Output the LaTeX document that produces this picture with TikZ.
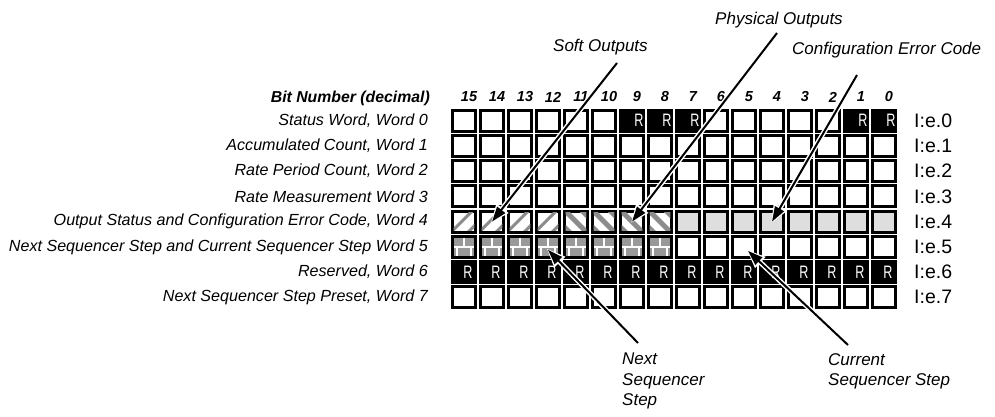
\documentclass[tikz,border=0pt]{standalone}
\usepackage{fontspec}
\usepackage{graphicx}
\setmainfont{Liberation Sans}
\usetikzlibrary{arrows.meta}
\definecolor{hatchgray}{gray}{0.55}
\definecolor{lightcell}{gray}{0.87}
\definecolor{brickgray}{gray}{0.6}
\newcommand{\rmark}{\raisebox{-2pt}{\scalebox{0.7}[1]{R}}}
\begin{document}
\begin{tikzpicture}[x=1pt,y=-1pt,
 cellbox/.style={shape=rectangle,draw=black,line width=3pt,fill=white,minimum width=23.8pt,minimum height=21.05pt,inner sep=0pt,outer sep=0pt},
 lightbox/.style={cellbox,fill=lightcell},
 brickbox/.style={cellbox,fill=brickgray},
 rbox/.style={shape=rectangle,fill=black,minimum width=26.8pt,minimum height=24.05pt,inner sep=0pt,outer sep=0pt,text=white,font=\fontsize{18}{18}\selectfont},
 rowlabel/.style={anchor=east,inner sep=0pt,font=\itshape\fontsize{16.1}{16}\selectfont},
 bitnum/.style={inner sep=0pt,font=\bfseries\itshape\fontsize{14.5}{15}\selectfont},
 addr/.style={anchor=west,inner sep=0pt,font=\fontsize{19.5}{20}\selectfont},
 callout/.style={inner sep=0pt,font=\itshape\fontsize{17}{20.5}\selectfont,align=left},
 casing/.style={draw=white,line width=5pt,-{Triangle[length=19pt,width=14pt]},shorten >=-2pt},
 pointer/.style={draw=black,line width=2pt,-{Triangle[length=15pt,width=10pt]}},
 hatchline/.style={draw=hatchgray,line cap=butt},
 brickline/.style={draw=white,line width=1.6pt,line cap=butt},
]
\fill[white] (0,0) rectangle (995,417);
\useasboundingbox (0,0) rectangle (995,417);

% header
\node[rowlabel,font=\bfseries\itshape\fontsize{15.8}{16}\selectfont] (hdr) at (430,98) {Bit Number (decimal)};
\foreach \c [evaluate=\c as \b using int(15-\c)] in {0,...,15}
  \node[bitnum] (bit-\c) at ({469+28*\c},97) {\b};

% row labels
\node[rowlabel] (lab-0) at (428,120.6) {Status Word, Word 0};
\node[rowlabel] (lab-1) at (428,145.9) {Accumulated Count, Word 1};
\node[rowlabel] (lab-2) at (428,171.1) {Rate Period Count, Word 2};
\node[rowlabel] (lab-3) at (428,196.4) {Rate Measurement Word 3};
\node[rowlabel] (lab-4) at (428,221.6) {Output Status and Configuration Error Code, Word 4};
\node[rowlabel] (lab-5) at (428,246.9) {Next Sequencer Step and Current Sequencer Step Word 5};
\node[rowlabel] (lab-6) at (428,272.1) {Reserved, Word 6};
\node[rowlabel] (lab-7) at (428,297.4) {Next Sequencer Step Preset, Word 7};

\foreach \r in {0,...,7}
  \node[addr] (addr-\r) at (914,{120.6+25.25*\r}) {I:e.\r};

% plain rows
\foreach \r in {1,2,3,7}
  \foreach \c in {0,...,15}
    \node[cellbox] (cell-\r-\c) at ({464+28*\c},{120.625+25.25*\r}) {};

% row 0
\foreach \c in {0,...,5,9,10,11,12,13}
  \node[cellbox] (cell-0-\c) at ({464+28*\c},120.625) {};
\foreach \c in {6,7,8,14,15}
  \node[rbox] (cell-0-\c) at ({464+28*\c},120.625) {\hspace*{14pt}\rmark};

% row 6
\foreach \c in {0,...,15}
  \node[rbox] (cell-6-\c) at ({464+28*\c},{120.625+25.25*6}) {\hspace*{8pt}\rmark};

% row 4
\foreach \c in {0,...,3}{
  \node[cellbox] (cell-4-\c) at ({464+28*\c},{120.625+25.25*4}) {};
  \begin{scope}[shift={({450+28*\c+3.6},{108+25.25*4+3.6})}]
    \clip (0,0) rectangle (20.8,18.05);
    \draw[hatchline,line width=3pt] (27,-10) -- (-10,27);
    \draw[hatchline,line width=3pt] (44,-10) -- (-10,44);
  \end{scope}
}
\foreach \c in {4,...,7}{
  \node[cellbox] (cell-4-\c) at ({464+28*\c},{120.625+25.25*4}) {};
  \begin{scope}[shift={({450+28*\c+3.6},{108+25.25*4+3.6})}]
    \clip (0,0) rectangle (20.8,18.05);
    \draw[hatchline,line width=5pt] (-8.6,-10) -- (41.4,40);
    \draw[hatchline,line width=5pt] (8.4,-10) -- (58.4,40);
    \draw[hatchline,line width=5pt] (-25.6,-10) -- (24.4,40);
  \end{scope}
}
\foreach \c in {8,...,15}
  \node[lightbox] (cell-4-\c) at ({464+28*\c},{120.625+25.25*4}) {};

% row 5
\foreach \c in {0,...,7}{
  \node[brickbox] (cell-5-\c) at ({464+28*\c},{120.625+25.25*5}) {};
  \begin{scope}[shift={({450+28*\c+3.6},{108+25.25*5+3.6})}]
    \clip (0,0) rectangle (20.8,18.05);
    \draw[brickline] (0,9) -- (20.8,9);
    \draw[brickline] (10.4,0) -- (10.4,9);
    \draw[brickline] (3.5,9) -- (3.5,18.05);
    \draw[brickline] (17.3,9) -- (17.3,18.05);
  \end{scope}
}
\foreach \c in {8,...,15}
  \node[cellbox] (cell-5-\c) at ({464+28*\c},{120.625+25.25*5}) {};

% callouts
\node[callout,anchor=west] (soft) at (553,47.5) {Soft Outputs};
\node[callout,anchor=west] (phys) at (715,20) {Physical Outputs};
\node[callout,anchor=west] (conf) at (792,50) {Configuration Error Code};
\node[callout,anchor=north west] (next) at (622,353) {Next\\Sequencer\\Step};
\node[callout,anchor=north west] (curr) at (828,353) {Current\\Sequencer Step};

\coordinate (softfoot) at (617,63);
\coordinate (physfoot) at (777,33);
\coordinate (conffoot) at (857,75);
\coordinate (nextfoot) at (638,343);
\coordinate (currfoot) at (848,345);

\draw[casing] (softfoot) -- (cell-4-1.center);
\draw[pointer] (softfoot) -- (cell-4-1.center);
\draw[casing] (physfoot) -- (cell-4-6.center);
\draw[pointer] (physfoot) -- (cell-4-6.center);
\draw[casing] (conffoot) -- (cell-4-11.center);
\draw[pointer] (conffoot) -- (cell-4-11.center);
\draw[casing] (nextfoot) -- ([yshift=-3pt]cell-5-3.center);
\draw[pointer] (nextfoot) -- ([yshift=-3pt]cell-5-3.center);
\draw[casing] (currfoot) -- ([xshift=4pt,yshift=-4pt]cell-5-10.center);
\draw[pointer] (currfoot) -- ([xshift=4pt,yshift=-4pt]cell-5-10.center);
\end{tikzpicture}
\end{document}
